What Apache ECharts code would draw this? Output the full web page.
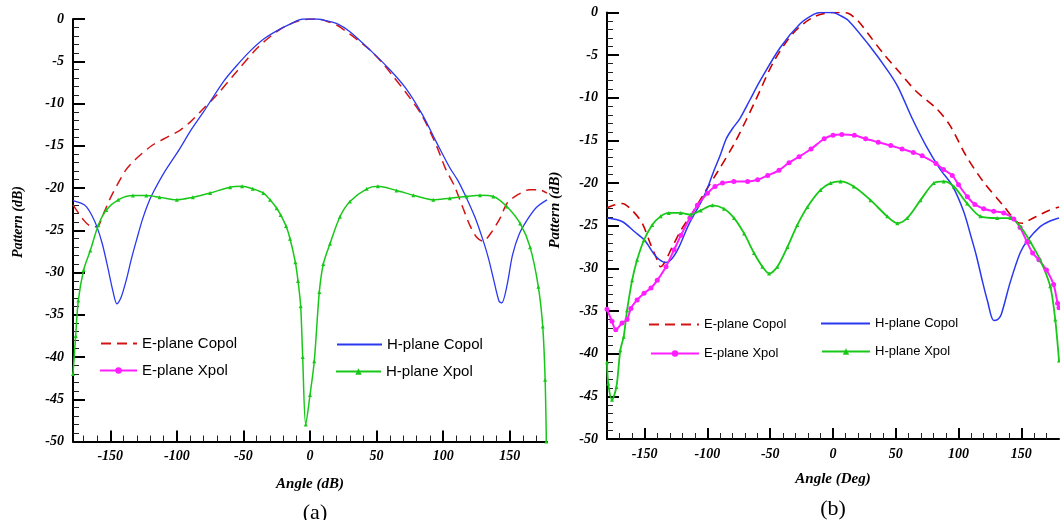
<!DOCTYPE html>
<html>
<head>
<meta charset="utf-8">
<script src="https://cdn.jsdelivr.net/npm/echarts@6/dist/echarts.min.js"></script>
<style>html,body{margin:0;padding:0;background:#fff}#c{width:1060px;height:520px}</style>
</head>
<body>
<div id="c"></div>
<script>
// ---------- Panel (a) ----------
const aEcopolX = [-178,-170,-165,-160,-155,-150,-144,-138,-131,-119,-110,-98,-90,-80,-70,-55,-40,-30,-20,-10,0,6,15,21,30,40,46,55,62,72,84,95,102,108,115,120,125,130,136,143,148,155,165,172,178];
const aEcopolY = [-22.0,-23.8,-24.5,-24.6,-23.0,-21.2,-19.4,-17.8,-16.6,-15.0,-14.2,-13.2,-12.2,-10.6,-9.0,-6.2,-3.5,-2.1,-1.0,-0.3,0,0,-0.4,-0.8,-1.8,-3.0,-3.8,-5.3,-6.7,-8.7,-11.4,-15.0,-17.8,-19.6,-22.4,-24.4,-25.8,-26.3,-25.3,-23.5,-21.8,-20.9,-20.2,-20.2,-20.6];

const aHcopolX = [-178,-172,-168,-164,-160,-156,-152,-148,-145,-142,-138,-134,-130,-126,-122,-118,-110,-98,-90,-80,-65,-55,-45,-35,-25,-15,-5,5,12,21,30,46,60,72,84,95,105,111,117,124,130,134,138,142,144,148,152,157,163,170,178];
const aHcopolY = [-21.5,-21.8,-22.2,-23.2,-24.6,-26.6,-29.3,-32.2,-33.7,-33.0,-30.9,-28.3,-26.0,-23.8,-22.0,-20.6,-18.3,-15.4,-13.3,-11.0,-7.4,-5.5,-3.8,-2.4,-1.4,-0.6,0,0,-0.2,-0.6,-1.5,-3.8,-6.0,-8.2,-11.2,-14.6,-17.6,-19.1,-21.0,-23.5,-26.2,-28.3,-30.9,-33.4,-33.6,-31.5,-28.0,-25.5,-23.8,-22.3,-21.4];

const aHxpolX = [-178,-176,-174,-170,-165,-159,-153,-144,-133,-123,-113,-100,-88,-75,-60,-51,-43,-35,-30,-25,-22,-18,-15,-11,-9,-7,-5.5,-3.2,0,3.2,7,10,15,22.5,30,42.6,51,65,77.6,92.6,105,117.7,127.7,137.7,147.8,157.8,165.3,171.5,174.8,176.6,177.5];
const aHxpolY = [-42.0,-37.5,-33.3,-29.7,-27.4,-24.4,-22.6,-21.4,-20.9,-20.9,-21.1,-21.4,-21.1,-20.6,-19.9,-19.8,-20.1,-20.6,-21.4,-22.4,-23.2,-24.5,-26.0,-28.8,-31.0,-34.0,-40.0,-48.0,-44.5,-40.5,-32.3,-29.0,-26.6,-23.4,-21.6,-20.1,-19.8,-20.3,-20.85,-21.4,-21.2,-21.0,-20.85,-21.0,-22.2,-24.2,-27.0,-31.7,-36.4,-42.7,-50.0];

// ---------- Panel (b) ----------
const bEcopolX = [-180,-175,-168,-160,-152,-145.5,-140,-137.5,-135,-128,-121,-112,-101,-92,-78,-62,-47,-31,-15,0,5,12,20,28,40,50,66,82,93,106,120,136,146,151,158,165,172,180];
const bEcopolY = [-22.9,-22.6,-22.4,-23.2,-24.7,-27.1,-29.0,-29.8,-29.5,-27.5,-25.5,-23.5,-20.8,-18.7,-15.2,-10.4,-5.7,-2.3,-0.5,0,0,-0.1,-1.0,-2.5,-4.8,-6.5,-9.2,-11.2,-13.2,-16.8,-19.9,-22.7,-24.5,-24.7,-24.2,-23.7,-23.2,-22.8];

const bHcopolX = [-180,-168,-158,-150,-141,-133,-128,-123,-115,-105,-100,-95,-90,-85,-80,-74,-66,-58,-42,-26,-15,-10,0,5,12,28,44,52,63,74,85,95,104,110,114,119,123,128,131,134,141,149,155,165,172,180];
const bHcopolY = [-24.1,-24.5,-25.7,-26.7,-28.6,-29.3,-28.8,-27.6,-24.9,-22.2,-20.6,-18.6,-16.8,-14.8,-13.6,-12.4,-10.2,-8.0,-4.1,-1.3,-0.2,0,0,-0.3,-0.9,-3.7,-6.9,-8.8,-12.4,-15.6,-18.3,-20.3,-23.3,-26.3,-28.4,-31.5,-33.8,-36.1,-36.0,-35.4,-31.7,-28.2,-26.7,-25.1,-24.5,-24.1];

const bExpolX = [-180,-176,-173,-168,-164,-161,-156,-150.5,-145,-140,-133,-126.5,-121,-114,-108,-100,-94,-88,-79,-68,-60,-52,-43,-35,-27,-17.5,-7,0,7,17,26,36,46,55,64,71,82,88,95,100,107,113,120,128,136,144,149,154.5,159,164,170,175.7,178.9,180];
const bExpolY = [-34.8,-36.2,-37.2,-36.4,-36.0,-34.7,-33.7,-32.9,-32.3,-31.4,-29.8,-27.8,-26.1,-24.1,-22.6,-21.2,-20.4,-20.0,-19.8,-19.8,-19.6,-19.1,-18.5,-17.6,-16.9,-16.0,-14.8,-14.4,-14.3,-14.4,-14.8,-15.2,-15.6,-16.0,-16.4,-16.8,-17.7,-18.4,-19.1,-20.2,-21.6,-22.5,-23.0,-23.3,-23.5,-24.2,-25.2,-26.9,-28.2,-29.0,-30.2,-31.9,-34.1,-34.6];

const bHxpolX = [-180,-179,-176,-172.5,-169.4,-166.7,-164,-160,-156,-150.6,-144,-137.3,-130.7,-121.3,-113.4,-105.4,-96,-86.8,-78.8,-70.8,-62.9,-56.2,-50.9,-44.3,-36.3,-28.4,-20.4,-9.9,-1.9,6,16.6,29.9,43.2,51.2,59.1,69.7,80.3,88.2,96.2,106.9,117.4,130.7,141.3,149.2,157.2,165,173,177,180];
const bHxpolY = [-41.0,-43.5,-45.4,-43.9,-39.6,-38.0,-34.9,-31.4,-29.0,-26.7,-24.9,-23.9,-23.5,-23.5,-23.7,-23.2,-22.6,-23.0,-24.1,-25.9,-28.2,-29.8,-30.6,-29.8,-27.5,-24.9,-22.8,-20.8,-20.0,-19.8,-20.4,-22.0,-23.9,-24.7,-24.1,-22.0,-20.0,-19.8,-20.4,-22.4,-23.9,-24.1,-24.1,-25.1,-26.9,-29.0,-32.1,-36.0,-40.8];

// ---------- Axis tick values ----------
const xMajorTicks = [-150,-100,-50,0,50,100,150];
const xMinorTicks = [-170,-160,-140,-130,-120,-110,-90,-80,-70,-60,-40,-30,-20,-10,10,20,30,40,60,70,80,90,110,120,130,140,160,170];
const yMin = -50, yMax = 0, yStep = 5;

const zip = (xs, ys) => xs.map((x, i) => [x, ys[i]]);

const C_RED = '#D41414', C_BLUE = '#2A38F0', C_GREEN = '#18C818', C_MAG = '#FF1EFF';
const serifBI = {fontFamily: 'Liberation Serif', fontStyle: 'italic', fontWeight: 'bold', color: '#000'};

const grids = [
  {left: 73, top: 19, width: 474, height: 422.5},
  {left: 607, top: 12.5, width: 452, height: 426.5}
];
const xRanges = [[-178, 178], [-180, 180]];
const xNames = ['Angle (dB)', 'Angle (Deg)'];

const xAxes = [], yAxes = [];
[0, 1].forEach(g => {
  xAxes.push({
    type: 'value', gridIndex: g, min: xRanges[g][0], max: xRanges[g][1], position: 'bottom',
    name: xNames[g], nameLocation: 'middle', nameGap: g === 0 ? 35 : 33,
    nameTextStyle: Object.assign({fontSize: 15}, serifBI),
    axisLine: {show: true, onZero: false, lineStyle: {color: '#000', width: 2}},
    axisTick: {show: true, inside: true, length: 11, lineStyle: {color: '#000', width: 2}, customValues: xMajorTicks},
    axisLabel: Object.assign({fontSize: 14, margin: 8, customValues: xMajorTicks}, serifBI),
    splitLine: {show: false}
  });
  xAxes.push({
    type: 'value', gridIndex: g, min: xRanges[g][0], max: xRanges[g][1], position: 'bottom',
    axisLine: {show: false, onZero: false},
    axisTick: {show: true, inside: true, length: 6, lineStyle: {color: '#222', width: 1}, customValues: xMinorTicks},
    axisLabel: {show: false}, splitLine: {show: false}
  });
  yAxes.push({
    type: 'value', gridIndex: g, min: yMin, max: yMax, interval: yStep, position: 'left',
    axisLine: {show: true, onZero: false, lineStyle: {color: '#000', width: 2}},
    axisTick: {show: true, inside: true, length: 12, lineStyle: {color: '#000', width: 2}},
    minorTick: {show: true, splitNumber: 5, length: 6, lineStyle: {color: '#222', width: 1}},
    axisLabel: Object.assign({fontSize: 14, margin: 9}, serifBI),
    splitLine: {show: false}
  });
});

function lineSeries(name, g, data, color, opts) {
  return Object.assign({
    name, type: 'line', xAxisIndex: g * 2, yAxisIndex: g, data,
    symbol: 'none', smooth: 0.3, animation: false,
    lineStyle: {color, width: 1.5}, itemStyle: {color}
  }, opts || {});
}

const series = [
  lineSeries('E-plane Copol', 0, zip(aEcopolX, aEcopolY), C_RED, {lineStyle: {color: C_RED, width: 1.5, type: [10, 6]}}),
  lineSeries('H-plane Copol', 0, zip(aHcopolX, aHcopolY), C_BLUE, {lineStyle: {color: C_BLUE, width: 1.3}}),
  lineSeries('H-plane Xpol', 0, zip(aHxpolX, aHxpolY), C_GREEN, {symbol: 'triangle', symbolSize: 4, showAllSymbol: true}),
  lineSeries('E-plane Copol', 1, zip(bEcopolX, bEcopolY), '#CC0000', {lineStyle: {color: '#CC0000', width: 1.6, type: [9, 6]}}),
  lineSeries('H-plane Copol', 1, zip(bHcopolX, bHcopolY), C_BLUE, {lineStyle: {color: C_BLUE, width: 1.5}}),
  lineSeries('E-plane Xpol', 1, zip(bExpolX, bExpolY), C_MAG, {symbol: 'circle', symbolSize: 5, showAllSymbol: true, lineStyle: {color: C_MAG, width: 2}}),
  lineSeries('H-plane Xpol', 1, zip(bHxpolX, bHxpolY), C_GREEN, {symbol: 'triangle', symbolSize: 4, showAllSymbol: true, lineStyle: {color: C_GREEN, width: 1.8}})
];

function legendItem(name, left, cy, w, fs, noSymbol) {
  const l = {
    data: [name], left, top: cy - 4, itemWidth: w, itemHeight: 8, padding: 0,
    selectedMode: false, orient: 'horizontal',
    textStyle: {fontFamily: 'Liberation Sans', fontSize: fs, color: '#000'}
  };
  if (noSymbol) l.itemStyle = {color: 'rgba(0,0,0,0)', borderWidth: 0, opacity: 0};
  return l;
}
const legends = [
  legendItem('E-plane Copol', 100, 340, 36, 15, true),
  legendItem('E-plane Xpol', 99, 367, 37, 15),
  legendItem('H-plane Copol', 336, 341, 45, 15, true),
  legendItem('H-plane Xpol', 335, 368, 45, 15),
  legendItem('E-plane Copol', 648, 322, 50, 13, true),
  legendItem('E-plane Xpol', 650, 351, 48, 13),
  legendItem('H-plane Copol', 820, 321, 49, 13, true),
  legendItem('H-plane Xpol', 821, 349, 48, 13)
];

const yTitle = 'Pattern (dB)';
function yTitleText(x, y, size) {
  return {
    type: 'text', x, y, rotation: Math.PI / 2, silent: true,
    style: {text: yTitle, font: 'italic bold ' + size + 'px "Liberation Serif"', fill: '#000', align: 'center', verticalAlign: 'middle', textAlign: 'center', textVerticalAlign: 'middle'}
  };
}

const chart = echarts.init(document.getElementById('c'), null, {renderer: 'canvas'});
chart.setOption({
  backgroundColor: '#fff',
  animation: false,
  title: [
    {text: '(a)', left: 310, top: 497, textAlign: 'center', textStyle: {fontFamily: 'Liberation Serif', fontWeight: 'normal', fontSize: 22, color: '#000'}},
    {text: '(b)', left: 828, top: 493, textAlign: 'center', textStyle: {fontFamily: 'Liberation Serif', fontWeight: 'normal', fontSize: 22, color: '#000'}}
  ],
  graphic: [yTitleText(18, 222, 14), yTitleText(555, 210, 15)],
  grid: grids,
  xAxis: xAxes,
  yAxis: yAxes,
  legend: legends,
  series
});
</script>
</body>
</html>
